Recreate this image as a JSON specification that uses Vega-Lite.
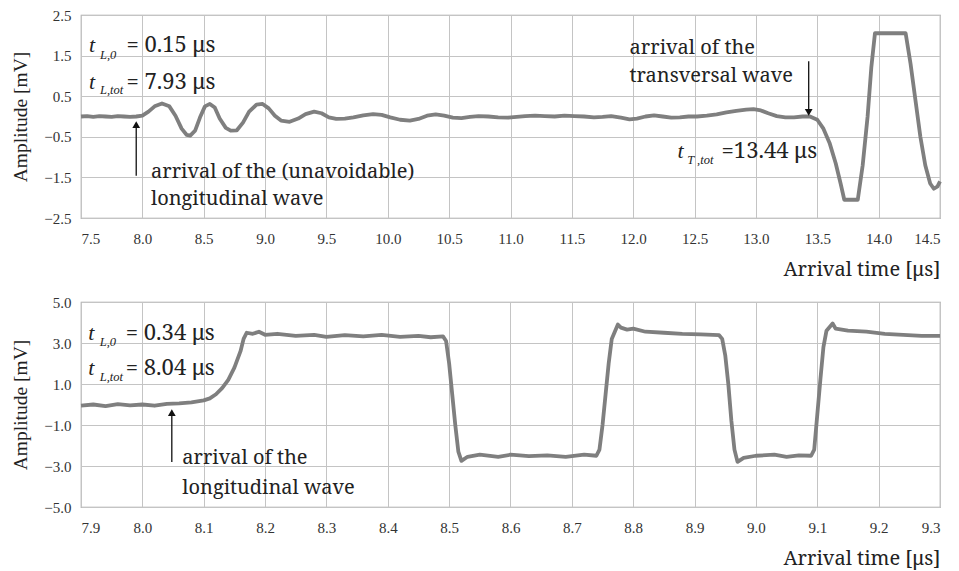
{
  "$schema": "https://vega.github.io/schema/vega-lite/v6.json",
  "background": "white",
  "padding": {"left": 10, "top": 7, "right": 5, "bottom": 5},
  "spacing": 14,
  "datasets": {
    "top": [
      {"t": 7.50, "a": 0.00}, {"t": 7.55, "a": 0.01}, {"t": 7.60, "a": -0.01}, {"t": 7.65, "a": 0.01},
      {"t": 7.70, "a": 0.00}, {"t": 7.75, "a": -0.01}, {"t": 7.80, "a": 0.01}, {"t": 7.85, "a": 0.00},
      {"t": 7.90, "a": -0.01}, {"t": 7.95, "a": 0.00}, {"t": 8.00, "a": 0.02}, {"t": 8.05, "a": 0.12},
      {"t": 8.10, "a": 0.25}, {"t": 8.16, "a": 0.32}, {"t": 8.22, "a": 0.25}, {"t": 8.27, "a": 0.02},
      {"t": 8.32, "a": -0.30}, {"t": 8.36, "a": -0.45}, {"t": 8.39, "a": -0.47}, {"t": 8.43, "a": -0.35},
      {"t": 8.47, "a": -0.02}, {"t": 8.51, "a": 0.25}, {"t": 8.55, "a": 0.31}, {"t": 8.59, "a": 0.22},
      {"t": 8.63, "a": -0.05}, {"t": 8.68, "a": -0.28}, {"t": 8.72, "a": -0.35}, {"t": 8.77, "a": -0.34},
      {"t": 8.82, "a": -0.15}, {"t": 8.87, "a": 0.12}, {"t": 8.93, "a": 0.29}, {"t": 8.98, "a": 0.31},
      {"t": 9.03, "a": 0.20}, {"t": 9.08, "a": 0.02}, {"t": 9.13, "a": -0.10}, {"t": 9.20, "a": -0.13},
      {"t": 9.27, "a": -0.05}, {"t": 9.33, "a": 0.06}, {"t": 9.40, "a": 0.12}, {"t": 9.46, "a": 0.08},
      {"t": 9.52, "a": -0.02}, {"t": 9.58, "a": -0.06}, {"t": 9.65, "a": -0.05}, {"t": 9.72, "a": -0.02},
      {"t": 9.80, "a": 0.03}, {"t": 9.88, "a": 0.06}, {"t": 9.95, "a": 0.04}, {"t": 10.02, "a": -0.02},
      {"t": 10.10, "a": -0.08}, {"t": 10.18, "a": -0.10}, {"t": 10.25, "a": -0.06}, {"t": 10.32, "a": 0.02},
      {"t": 10.39, "a": 0.05}, {"t": 10.46, "a": 0.02}, {"t": 10.53, "a": -0.03}, {"t": 10.60, "a": -0.04},
      {"t": 10.67, "a": -0.01}, {"t": 10.74, "a": 0.01}, {"t": 10.82, "a": 0.00}, {"t": 10.90, "a": -0.02},
      {"t": 10.98, "a": -0.03}, {"t": 11.05, "a": -0.01}, {"t": 11.12, "a": 0.01}, {"t": 11.20, "a": 0.02},
      {"t": 11.28, "a": 0.01}, {"t": 11.36, "a": 0.00}, {"t": 11.44, "a": 0.02}, {"t": 11.52, "a": 0.01},
      {"t": 11.60, "a": 0.00}, {"t": 11.68, "a": -0.02}, {"t": 11.75, "a": -0.01}, {"t": 11.82, "a": 0.01},
      {"t": 11.90, "a": -0.03}, {"t": 11.97, "a": -0.07}, {"t": 12.03, "a": -0.05}, {"t": 12.10, "a": 0.00},
      {"t": 12.17, "a": 0.03}, {"t": 12.24, "a": 0.00}, {"t": 12.31, "a": -0.03}, {"t": 12.38, "a": -0.02},
      {"t": 12.45, "a": 0.00}, {"t": 12.52, "a": 0.00}, {"t": 12.60, "a": 0.02}, {"t": 12.68, "a": 0.05},
      {"t": 12.76, "a": 0.10}, {"t": 12.84, "a": 0.14}, {"t": 12.92, "a": 0.17}, {"t": 12.98, "a": 0.18},
      {"t": 13.04, "a": 0.15}, {"t": 13.10, "a": 0.08}, {"t": 13.17, "a": 0.01}, {"t": 13.24, "a": -0.02},
      {"t": 13.31, "a": -0.02}, {"t": 13.38, "a": 0.00}, {"t": 13.44, "a": 0.00}, {"t": 13.50, "a": -0.08},
      {"t": 13.55, "a": -0.30}, {"t": 13.60, "a": -0.65}, {"t": 13.65, "a": -1.15}, {"t": 13.69, "a": -1.65},
      {"t": 13.72, "a": -2.05}, {"t": 13.83, "a": -2.05}, {"t": 13.87, "a": -1.20}, {"t": 13.91, "a": 0.00},
      {"t": 13.94, "a": 1.20}, {"t": 13.97, "a": 2.05}, {"t": 14.22, "a": 2.05}, {"t": 14.26, "a": 1.30},
      {"t": 14.30, "a": 0.40}, {"t": 14.34, "a": -0.50}, {"t": 14.38, "a": -1.20}, {"t": 14.42, "a": -1.65},
      {"t": 14.45, "a": -1.78}, {"t": 14.48, "a": -1.72}, {"t": 14.50, "a": -1.60}
    ],
    "bottom": [
      {"t": 7.90, "a": -0.05}, {"t": 7.92, "a": 0.00}, {"t": 7.94, "a": -0.08}, {"t": 7.96, "a": 0.02},
      {"t": 7.98, "a": -0.04}, {"t": 8.00, "a": 0.00}, {"t": 8.02, "a": -0.06}, {"t": 8.04, "a": 0.03},
      {"t": 8.06, "a": 0.05}, {"t": 8.08, "a": 0.10}, {"t": 8.10, "a": 0.20}, {"t": 8.11, "a": 0.30},
      {"t": 8.12, "a": 0.50}, {"t": 8.13, "a": 0.80}, {"t": 8.14, "a": 1.20}, {"t": 8.15, "a": 1.80},
      {"t": 8.16, "a": 2.60}, {"t": 8.165, "a": 3.20}, {"t": 8.17, "a": 3.50}, {"t": 8.18, "a": 3.45},
      {"t": 8.19, "a": 3.55}, {"t": 8.20, "a": 3.40}, {"t": 8.22, "a": 3.45}, {"t": 8.25, "a": 3.35},
      {"t": 8.28, "a": 3.40}, {"t": 8.30, "a": 3.30}, {"t": 8.33, "a": 3.38}, {"t": 8.36, "a": 3.32},
      {"t": 8.39, "a": 3.40}, {"t": 8.42, "a": 3.30}, {"t": 8.45, "a": 3.35}, {"t": 8.47, "a": 3.28},
      {"t": 8.49, "a": 3.32}, {"t": 8.495, "a": 3.10}, {"t": 8.50, "a": 2.00}, {"t": 8.505, "a": 0.50},
      {"t": 8.51, "a": -1.00}, {"t": 8.515, "a": -2.30}, {"t": 8.52, "a": -2.75}, {"t": 8.53, "a": -2.55},
      {"t": 8.55, "a": -2.45}, {"t": 8.58, "a": -2.55}, {"t": 8.60, "a": -2.45}, {"t": 8.63, "a": -2.52},
      {"t": 8.66, "a": -2.48}, {"t": 8.69, "a": -2.55}, {"t": 8.72, "a": -2.45}, {"t": 8.74, "a": -2.50},
      {"t": 8.745, "a": -2.20}, {"t": 8.75, "a": -1.00}, {"t": 8.755, "a": 0.50}, {"t": 8.76, "a": 2.00},
      {"t": 8.765, "a": 3.20}, {"t": 8.775, "a": 3.90}, {"t": 8.78, "a": 3.75}, {"t": 8.79, "a": 3.65},
      {"t": 8.80, "a": 3.70}, {"t": 8.82, "a": 3.55}, {"t": 8.85, "a": 3.50}, {"t": 8.88, "a": 3.45},
      {"t": 8.91, "a": 3.42}, {"t": 8.94, "a": 3.38}, {"t": 8.945, "a": 3.20}, {"t": 8.95, "a": 2.40},
      {"t": 8.955, "a": 1.00}, {"t": 8.96, "a": -0.80}, {"t": 8.965, "a": -2.20}, {"t": 8.97, "a": -2.80},
      {"t": 8.98, "a": -2.60}, {"t": 9.00, "a": -2.50}, {"t": 9.03, "a": -2.45}, {"t": 9.05, "a": -2.55},
      {"t": 9.07, "a": -2.48}, {"t": 9.09, "a": -2.50}, {"t": 9.095, "a": -2.20}, {"t": 9.10, "a": -0.50},
      {"t": 9.105, "a": 1.20}, {"t": 9.11, "a": 2.80}, {"t": 9.115, "a": 3.60}, {"t": 9.125, "a": 3.95},
      {"t": 9.13, "a": 3.70}, {"t": 9.15, "a": 3.60}, {"t": 9.18, "a": 3.55}, {"t": 9.21, "a": 3.45},
      {"t": 9.24, "a": 3.40}, {"t": 9.27, "a": 3.35}, {"t": 9.30, "a": 3.35}
    ]
  },
  "vconcat": [
    {
      "width": 859,
      "height": 203,
      "view": {"stroke": "#a0a0a0", "strokeWidth": 1.2},
      "encoding": {
        "x": {
          "field": "t", "type": "quantitative",
          "scale": {"domain": [7.5, 14.5], "nice": false, "zero": false},
          "axis": {
            "values": [7.5, 8.0, 8.5, 9.0, 9.5, 10.0, 10.5, 11.0, 11.5, 12.0, 12.5, 13.0, 13.5, 14.0, 14.5],
            "format": ".1f", "labelPadding": 13, "title": "Arrival time [μs]",
            "titleAnchor": "end", "titlePadding": 13,
            "labelFont": "Liberation Serif", "labelFontSize": 15, "labelColor": "#333333",
            "titleFont": "Noto Serif", "titleFontSize": 20, "titleFontWeight": "normal", "titleColor": "#222222",
            "grid": true, "gridColor": "#c4c4c4", "ticks": false, "domain": false
          }
        },
        "y": {
          "field": "a", "type": "quantitative",
          "scale": {"domain": [-2.5, 2.5], "nice": false, "zero": false},
          "axis": {
            "values": [-2.5, -1.5, -0.5, 0.5, 1.5, 2.5],
            "format": ".1f", "labelPadding": 10, "title": "Amplitude [mV]", "titlePadding": 13,
            "labelFont": "Liberation Serif", "labelFontSize": 15, "labelColor": "#333333",
            "titleFont": "Liberation Serif", "titleFontSize": 19.5, "titleFontWeight": "normal", "titleColor": "#222222",
            "grid": true, "gridColor": "#c4c4c4", "ticks": false, "domain": false
          }
        }
      },
      "layer": [
        {
          "data": {"values": [{"a": 0}]},
          "mark": {"type": "rule", "color": "#c4c4c4", "strokeWidth": 1},
          "encoding": {"y": {"field": "a", "type": "quantitative"}}
        },
        {
          "data": {"name": "top"},
          "mark": {"type": "line", "color": "#7f7f7f", "strokeWidth": 3.8, "strokeJoin": "round"}
        },
        {
          "data": {"values": [{"t": 7.95, "a": -1.46, "a2": -0.22}, {"t": 13.43, "a": 1.36, "a2": 0.12}]},
          "mark": {"type": "rule", "color": "#111111", "strokeWidth": 1.3},
          "encoding": {"y2": {"field": "a2"}}
        },
        {
          "data": {"values": [{"t": 7.95, "a": -0.2}]},
          "mark": {"type": "point", "shape": "triangle-up", "filled": true, "color": "#111111", "size": 60, "opacity": 1}
        },
        {
          "data": {"values": [{"t": 13.43, "a": 0.1}]},
          "mark": {"type": "point", "shape": "triangle-down", "filled": true, "color": "#111111", "size": 60, "opacity": 1}
        },
        {
          "data": {"values": [
            {"t": 7.565, "a": 1.75, "txt": "t"},
            {"t": 7.565, "a": 0.86, "txt": "t"},
            {"t": 12.36, "a": -0.86, "txt": "t"}
          ]},
          "mark": {"type": "text", "align": "left", "baseline": "middle", "font": "Liberation Serif", "fontSize": 22, "fontStyle": "italic", "color": "#222222"},
          "encoding": {"text": {"field": "txt"}}
        },
        {
          "data": {"values": [
            {"t": 7.655, "a": 1.52, "txt": "L,0"},
            {"t": 7.655, "a": 0.66, "txt": "L,tot"},
            {"t": 12.44, "a": -1.06, "txt": "T ,tot"}
          ]},
          "mark": {"type": "text", "align": "left", "baseline": "middle", "font": "Liberation Serif", "fontSize": 12.5, "fontStyle": "italic", "color": "#222222"},
          "encoding": {"text": {"field": "txt"}}
        },
        {
          "data": {"values": [
            {"t": 7.87, "a": 1.75, "txt": "= 0.15 μs"},
            {"t": 7.87, "a": 0.86, "txt": "= 7.93 μs"},
            {"t": 12.72, "a": -0.86, "txt": "=13.44 μs"}
          ]},
          "mark": {"type": "text", "align": "left", "baseline": "middle", "font": "Noto Serif", "fontSize": 22, "color": "#222222"},
          "encoding": {"text": {"field": "txt"}}
        },
        {
          "data": {"values": [
            {"t": 8.07, "a": -1.36, "txt": "arrival of the (unavoidable)"},
            {"t": 8.07, "a": -2.02, "txt": "longitudinal wave"},
            {"t": 11.97, "a": 1.68, "txt": "arrival of the"},
            {"t": 11.97, "a": 0.99, "txt": "transversal wave"}
          ]},
          "mark": {"type": "text", "align": "left", "baseline": "middle", "font": "Noto Serif", "fontSize": 20, "color": "#222222"},
          "encoding": {"text": {"field": "txt"}}
        }
      ]
    },
    {
      "width": 859,
      "height": 205,
      "view": {"stroke": "#a0a0a0", "strokeWidth": 1.2},
      "encoding": {
        "x": {
          "field": "t", "type": "quantitative",
          "scale": {"domain": [7.9, 9.3], "nice": false, "zero": false},
          "axis": {
            "values": [7.9, 8.0, 8.1, 8.2, 8.3, 8.4, 8.5, 8.6, 8.7, 8.8, 8.9, 9.0, 9.1, 9.2, 9.3],
            "format": ".1f", "labelPadding": 13, "title": "Arrival time [μs]",
            "titleAnchor": "end", "titlePadding": 13,
            "labelFont": "Liberation Serif", "labelFontSize": 15, "labelColor": "#333333",
            "titleFont": "Noto Serif", "titleFontSize": 20, "titleFontWeight": "normal", "titleColor": "#222222",
            "grid": true, "gridColor": "#c4c4c4", "ticks": false, "domain": false
          }
        },
        "y": {
          "field": "a", "type": "quantitative",
          "scale": {"domain": [-5, 5], "nice": false, "zero": false},
          "axis": {
            "values": [-5, -3, -1, 1, 3, 5],
            "format": ".1f", "labelPadding": 10, "title": "Amplitude [mV]", "titlePadding": 13,
            "labelFont": "Liberation Serif", "labelFontSize": 15, "labelColor": "#333333",
            "titleFont": "Liberation Serif", "titleFontSize": 19.5, "titleFontWeight": "normal", "titleColor": "#222222",
            "grid": true, "gridColor": "#c4c4c4", "ticks": false, "domain": false
          }
        }
      },
      "layer": [
        {
          "data": {"values": [{"a": 0}]},
          "mark": {"type": "rule", "color": "#c4c4c4", "strokeWidth": 1},
          "encoding": {"y": {"field": "a", "type": "quantitative"}}
        },
        {
          "data": {"name": "bottom"},
          "mark": {"type": "line", "color": "#7f7f7f", "strokeWidth": 3.8, "strokeJoin": "round"}
        },
        {
          "data": {"values": [{"t": 8.048, "a": -2.8, "a2": -0.45}]},
          "mark": {"type": "rule", "color": "#111111", "strokeWidth": 1.3},
          "encoding": {"y2": {"field": "a2"}}
        },
        {
          "data": {"values": [{"t": 8.048, "a": -0.4}]},
          "mark": {"type": "point", "shape": "triangle-up", "filled": true, "color": "#111111", "size": 60, "opacity": 1}
        },
        {
          "data": {"values": [
            {"t": 7.912, "a": 3.5, "txt": "t"},
            {"t": 7.912, "a": 1.8, "txt": "t"}
          ]},
          "mark": {"type": "text", "align": "left", "baseline": "middle", "font": "Liberation Serif", "fontSize": 22, "fontStyle": "italic", "color": "#222222"},
          "encoding": {"text": {"field": "txt"}}
        },
        {
          "data": {"values": [
            {"t": 7.9305, "a": 3.05, "txt": "L,0"},
            {"t": 7.9305, "a": 1.36, "txt": "L,tot"}
          ]},
          "mark": {"type": "text", "align": "left", "baseline": "middle", "font": "Liberation Serif", "fontSize": 12.5, "fontStyle": "italic", "color": "#222222"},
          "encoding": {"text": {"field": "txt"}}
        },
        {
          "data": {"values": [
            {"t": 7.973, "a": 3.5, "txt": "= 0.34 μs"},
            {"t": 7.973, "a": 1.8, "txt": "= 8.04 μs"}
          ]},
          "mark": {"type": "text", "align": "left", "baseline": "middle", "font": "Noto Serif", "fontSize": 22, "color": "#222222"},
          "encoding": {"text": {"field": "txt"}}
        },
        {
          "data": {"values": [
            {"t": 8.065, "a": -2.63, "txt": "arrival of the"},
            {"t": 8.065, "a": -4.05, "txt": "longitudinal wave"}
          ]},
          "mark": {"type": "text", "align": "left", "baseline": "middle", "font": "Noto Serif", "fontSize": 20, "color": "#222222"},
          "encoding": {"text": {"field": "txt"}}
        }
      ]
    }
  ]
}
